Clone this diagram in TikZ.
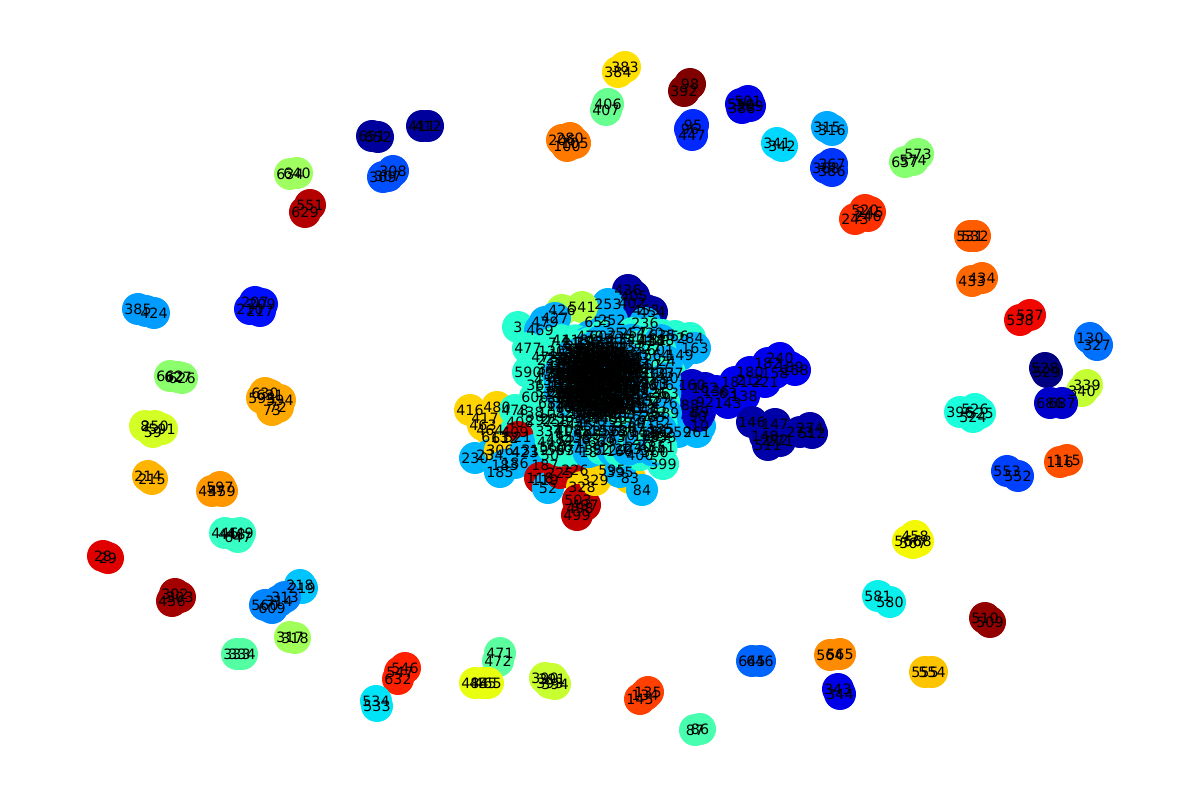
\documentclass[tikz,border=0pt]{standalone}
\usepackage{fontspec}
\setmainfont{DejaVu Sans}
\begin{document}
\begin{tikzpicture}[x=0.02cm,y=-0.02cm]
\tikzset{
  vtx/.style={circle,inner sep=0pt,minimum size=0.64cm,draw=none},
  lbl/.style={inner sep=0pt,text=black,font=\fontsize{8.1}{9}\selectfont}
}
\useasboundingbox (0,0) rectangle (1200,800);
\def\periph{625/67/FFE000/383, 618/72/FFE000/384,
608/104/66FF90/406, 606/110/66FF90/407,
690/84/800000/98, 684/91/800000/392,
693/125/0028FF/95, 690/129/0028FF/96, 692/135/0028FF/447,
748/101/0000E8/501, 741/104/0000E8/550, 742/108/0000E8/388, 750/106/0000E8/389,
777/143/00D8FF/341, 782/146/00D8FF/342,
827/127/00A8FF/315, 832/130/00A8FF/316,
832/164/0034FF/367, 826/168/0034FF/368, 832/171/0034FF/386,
855/219/FF3000/243, 865/210/FF3000/520, 870/212/FF3000/245, 868/216/FF3000/246,
918/154/86FF70/573, 913/160/86FF70/574, 905/162/86FF70/657,
970/236/FF5C00/531, 975/236/FF5C00/532,
972/281/FF6800/433, 982/278/FF6800/434,
1020/320/F00800/538, 1030/315/F00800/537,
1090/338/0070FF/130, 1097/345/0070FF/327,
1045/368/000080/528, 1047/372/000080/529,
1087/385/C4FF33/339, 1082/391/C4FF33/340,
1050/403/0000CC/686, 1062/403/0000CC/687,
960/412/1AFFDC/396, 975/409/1AFFDC/526, 980/413/1AFFDC/525, 973/417/1AFFDC/524,
1007/471/0040FF/553, 1018/476/0040FF/552,
1060/462/FF5000/116, 1067/460/FF5000/115,
915/536/F4F800/458, 908/541/F4F800/566, 913/543/F4F800/567, 918/541/F4F800/568,
878/596/0AF0EC/581, 890/602/0AF0EC/580,
985/618/920000/510, 990/622/920000/509,
925/672/FFC400/555, 932/672/FFC400/554,
830/655/FF8C00/564, 840/654/FF8C00/565,
838/689/0000E8/343, 840/694/0000E8/344,
752/661/0064FF/645, 760/661/0064FF/646,
648/692/FF4000/135, 640/699/FF4000/145, 645/695/FF4000/134,
695/730/48FFB0/87, 700/729/48FFB0/86,
545/678/C8FF30/390, 552/679/C8FF30/391, 555/684/C8FF30/394, 550/683/C8FF30/393,
500/653/5CFFA0/471, 498/661/5CFFA0/472,
475/683/E8FF10/484, 483/683/E8FF10/485, 488/683/E8FF10/465,
405/668/FF2000/546, 400/672/FF2000/547, 398/679/FF2000/632,
376/701/00E4F8/534, 377/706/00E4F8/533,
290/637/A0FF58/317, 295/638/A0FF58/318,
237/654/54FFA4/333, 242/654/54FFA4/334,
300/585/00C4FF/218, 302/588/00C4FF/219,
285/597/0084FF/313, 279/601/0084FF/314, 265/605/0084FF/560, 272/608/0084FF/609,
175/594/A40000/302, 180/597/A40000/303, 172/601/A40000/456,
103/556/E00000/28, 108/558/E00000/29,
225/533/38FFC4/446, 232/534/38FFC4/448, 240/533/38FFC4/449, 238/537/38FFC4/647,
220/487/FF9800/597, 212/491/FF9800/457, 222/491/FF9800/459,
148/476/FFB400/214, 152/479/FFB400/215,
145/426/D4FF24/8, 155/426/D4FF24/250, 162/429/D4FF24/591, 153/432/D4FF24/59,
170/376/8CFF6C/662, 178/377/8CFF6C/627, 182/378/8CFF6C/626,
138/309/009CFF/385, 146/311/009CFF/423, 154/313/009CFF/424,
255/302/0010FF/207, 262/304/0010FF/209, 250/309/0010FF/210, 260/311/0010FF/217,
265/393/FFA800/630, 270/395/FFA800/631, 262/398/FFA800/593, 280/400/FFA800/594, 278/407/FFA800/72, 272/410/FFA800/73,
372/136/00009C/651, 378/137/00009C/652,
422/126/00009C/411, 428/126/00009C/412,
388/176/0050FF/307, 393/171/0050FF/308, 383/177/0050FF/309,
562/140/FF7800/206, 567/146/FF7800/100, 575/143/FF7800/105, 570/138/FF7800/280,
290/174/A0FF60/634, 297/173/A0FF60/640,
310/205/B40000/551, 305/212/B40000/629}
\def\center{628/290/0000A0/436, 634/296/0000A0/405, 632/303/0000A0/402, 646/310/0000A0/453, 652/312/00009C/454,
608/304/00B0FF/253, 612/320/00B0FF/252, 598/322/00B0FF/655, 645/323/00B0FF/236,
562/310/B0FF40/426, 582/307/B0FF40/541,
518/327/26FFD0/3, 545/322/00B0FF/479, 540/330/00B0FF/469, 555/318/00B0FF/427,
590/336/00B0FF/470, 603/336/26FFD0/607, 620/333/00B0FF/254, 633/333/26FFD0/257,
650/333/26FFD0/420, 662/335/26FFD0/635, 675/336/26FFD0/356, 690/338/26FFD0/284,
695/348/00B0FF/163, 680/355/00B0FF/149, 670/373/26FFD0/237,
528/348/26FFD0/477, 545/357/26FFD0/473, 528/372/26FFD0/590, 540/385/26FFD0/361, 535/397/26FFD0/606, 550/372/26FFD0/474,
470/410/FFD400/416, 497/407/FFD400/480, 485/418/FFD400/417, 483/425/FFD400/463, 490/430/FFD400/464, 495/437/FFD400/613, 505/438/FFD400/612,
515/410/26FFD0/478, 530/412/26FFD0/438, 520/422/26FFD0/408, 540/420/26FFD0/297, 515/432/26FFD0/409,
518/437/C80000/521,
475/458/00B8FF/230, 490/455/00B8FF/234, 500/450/FFD400/306, 505/465/00B8FF/183, 500/472/00B8FF/185,
525/452/00B8FF/423, 535/450/00B8FF/319, 515/463/00B8FF/186, 545/465/00B8FF/187, 550/455/00B8FF/50,
540/478/C80000/118, 545/480/C80000/119, 548/488/00B8FF/52, 560/473/C80000/225, 575/470/C80000/226,
582/487/FFD400/328, 578/500/C00000/503, 580/508/C00000/498, 577/515/C00000/499, 585/505/C00000/497,
595/480/FFD400/329, 630/478/FFD400/83, 612/470/FFD400/595,
642/490/00B8FF/84, 620/472/00B8FF/395,
663/464/26FFD0/399, 655/452/26FFD0/360, 640/455/26FFD0/400,
678/432/00B8FF/259, 697/432/00B8FF/261, 700/426/00B8FF/10, 660/433/00B8FF/262,
690/405/0000C0/88, 700/412/0000C0/89, 698/416/0000C0/90, 705/402/0000C8/92,
705/388/0000C8/162, 716/391/0000E0/136, 728/393/0000E0/63, 728/403/0000E0/143, 744/396/0000F0/138,
735/382/0000F0/181, 750/380/0000F0/212, 765/382/0000F0/221, 750/372/0000F0/180, 768/363/0000F0/182,
780/358/0000F0/240, 790/367/0000F0/189, 795/370/0000F0/168, 775/373/0000F0/158,
752/422/0000A8/146, 775/424/0000A8/147, 810/428/0000A8/274, 800/432/0000A8/273, 812/433/0000A8/512,
765/436/0000A8/148, 775/440/0000A8/272, 768/445/0000A8/511, 780/441/0000A8/271,
655/383/00B8FF/101, 665/385/00B8FF/16, 692/385/0000C8/160}
% node discs
\foreach \x/\y/\cc/\lb in \periph {\definecolor{tmp}{HTML}{\cc}\node[vtx,fill=tmp] (v\lb) at (\x,\y) {};}
\foreach \x/\y/\cc/\lb in \center {\definecolor{tmp}{HTML}{\cc}\node[vtx,fill=tmp] (v\lb) at (\x,\y) {};}
\pgfmathsetseed{11}
\foreach \i in {0,...,13}{\foreach \j in {0,...,11}{
  \pgfmathsetmacro\gx{550+8.8*\i+4*rand}
  \pgfmathsetmacro\gy{343+9.6*\j+4*rand}
  \pgfmathtruncatemacro\k{mod(\i*3+\j*7,5)}
  \ifnum\i<4 \def\gc{26FFD0}\else\ifnum\k<2 \def\gc{26FFD0}\else\def\gc{00B4FF}\fi\fi
  \definecolor{tmp}{HTML}{\gc}
  \node[vtx,fill=tmp] (g\i-\j) at (\gx,\gy) {};
}}
% dense core (elliptical)
\foreach \i in {0,...,15}{\foreach \j in {0,...,13}{
  \pgfmathtruncatemacro\inside{((\i-7.5)/8.2)^2+((\j-6.5)/7.2)^2<1 ? 1 : 0}
  \ifnum\inside=1
  \pgfmathsetmacro\hx{560+5*\i+2*rand}
  \pgfmathsetmacro\hy{348+5*\j+2*rand}
  \pgfmathtruncatemacro\k{mod(\i*5+\j*3,4)}
  \ifnum\k<1 \def\gc{26FFD0}\else\def\gc{00B4FF}\fi
  \definecolor{tmp}{HTML}{\gc}
  \node[vtx,fill=tmp] (h\i-\j) at (\hx,\hy) {};
  \fi
}}
% labels
\foreach \x/\y/\cc/\lb in \periph {\node[lbl] (t\lb) at (v\lb) {\lb};}
\foreach \x/\y/\cc/\lb in \center {\node[lbl] (t\lb) at (v\lb) {\lb};}
\foreach \i in {0,...,13}{\foreach \j in {0,...,11}{
  \pgfmathtruncatemacro\lab{mod(37*\i+113*\j+7,690)}
  \node[lbl] (s\i-\j) at (g\i-\j) {\lab};
}}
\foreach \i in {0,...,15}{\foreach \j in {0,...,13}{
  \pgfmathtruncatemacro\inside{((\i-7.5)/8.2)^2+((\j-6.5)/7.2)^2<1 ? 1 : 0}
  \ifnum\inside=1
  \pgfmathtruncatemacro\lab{mod(53*\i+97*\j+29,690)}
  \node[lbl] (u\i-\j) at (h\i-\j) {\lab};
  \fi
}}
\end{tikzpicture}
\end{document}
